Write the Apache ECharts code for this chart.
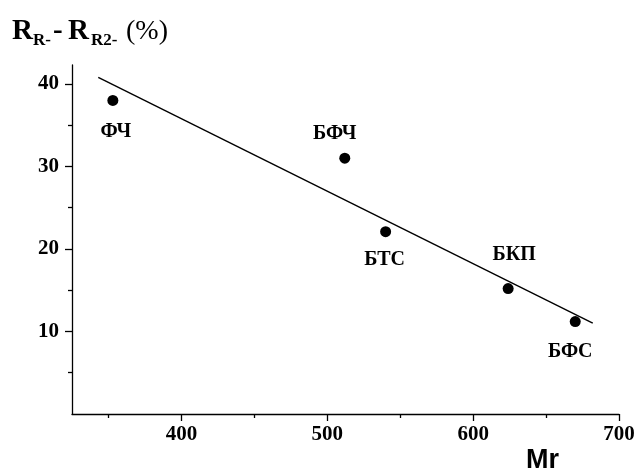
<!DOCTYPE html>
<html>
<head>
    <meta charset="UTF-8">
    <style>
        html, body { margin: 0; padding: 0; background: #fff; }
    </style>
</head>
<body>
<div id="chart" style="width: 639px; height: 473px;"></div>
<script src="https://cdn.jsdelivr.net/npm/echarts@6/dist/echarts.min.js"></script>
<script type="text/javascript">
    // samples
    var names = ['ФЧ', 'БФЧ', 'БТС', 'БКП', 'БФС'];
    var mrValues = [353, 512, 540, 624, 670];
    var diffValues = [38.0, 31.0, 22.1, 15.2, 11.2];

    var fitX = [343, 682];
    var fitY = [40.8, 11.0];

    // ticks
    var xMajorTicks = [400, 500, 600, 700];
    var xMinorTicks = [350, 450, 550, 650];
    var yMajorTicks = [10, 20, 30, 40];
    var yMinorTicks = [5, 15, 25, 35];

    var serif = '"Liberation Serif", "Times New Roman", serif';
    var axisColor = '#000';

    // where each name sits around its dot
    var labelPlace = {
        'ФЧ': [3, 31],
        'БФЧ': [-10, -24],
        'БТС': [-1, 28],
        'БКП': [6, -34],
        'БФС': [-5, 30]
    };

    var points = [];
    for (var i = 0; i < names.length; i++) {
        points.push({
            name: names[i],
            value: [mrValues[i], diffValues[i]],
            label: { offset: labelPlace[names[i]] }
        });
    }
    var fitLine = [];
    for (var j = 0; j < fitX.length; j++) {
        fitLine.push([fitX[j], fitY[j]]);
    }

    var chart = echarts.init(document.getElementById('chart'));
    var option = {
        animation: false,
        backgroundColor: '#fff',
        grid: { left: 72, right: 20, top: 65, bottom: 59 },
        xAxis: [
            {
                type: 'value', min: 325, max: 700,
                axisLine: { lineStyle: { color: axisColor, width: 1.3 } },
                axisTick: { customValues: xMajorTicks, length: 7, lineStyle: { color: axisColor, width: 1.3 } },
                axisLabel: {
                    customValues: xMajorTicks, margin: 10, color: '#000',
                    fontFamily: serif, fontWeight: 'bold', fontSize: 21
                },
                splitLine: { show: false }
            },
            {
                type: 'value', min: 325, max: 700, position: 'bottom',
                axisLine: { show: false },
                axisTick: { customValues: xMinorTicks, length: 4, lineStyle: { color: axisColor, width: 1.3 } },
                axisLabel: { show: false },
                splitLine: { show: false }
            }
        ],
        yAxis: [
            {
                type: 'value', min: 0, max: 42.3,
                axisLine: { show: true, lineStyle: { color: axisColor, width: 1.3 } },
                axisTick: { show: true, customValues: yMajorTicks, length: 7, lineStyle: { color: axisColor, width: 1.3 } },
                axisLabel: {
                    customValues: yMajorTicks, margin: 13, color: '#000',
                    fontFamily: serif, fontWeight: 'bold', fontSize: 21
                },
                splitLine: { show: false }
            },
            {
                type: 'value', min: 0, max: 42.3, position: 'left',
                axisLine: { show: false },
                axisTick: { show: true, customValues: yMinorTicks, length: 4, lineStyle: { color: axisColor, width: 1.3 } },
                axisLabel: { show: false },
                splitLine: { show: false }
            }
        ],
        graphic: [
            { type: 'text', left: 12, top: 17, style: { text: 'R', font: 'bold 29px ' + serif, fill: '#000' } },
            { type: 'text', left: 33, top: 32, style: { text: 'R-', font: 'bold 17px ' + serif, fill: '#000' } },
            { type: 'text', left: 53, top: 17, style: { text: '-', font: 'bold 29px ' + serif, fill: '#000' } },
            { type: 'text', left: 68, top: 17, style: { text: 'R', font: 'bold 29px ' + serif, fill: '#000' } },
            { type: 'text', left: 91, top: 32, style: { text: 'R2-', font: 'bold 17px ' + serif, fill: '#000' } },
            { type: 'text', left: 126, top: 18, style: { text: '(%)', font: '28px ' + serif, fill: '#000' } },
            { type: 'text', left: 526, top: 447, style: { text: 'Mr', font: 'bold 27px "Liberation Sans", Arial, sans-serif', fill: '#000' } }
        ],
        series: [
            {
                type: 'line',
                data: fitLine,
                showSymbol: false,
                lineStyle: { color: '#000', width: 1.4 },
                silent: true
            },
            {
                type: 'scatter',
                data: points,
                symbolSize: 11,
                itemStyle: { color: '#000', opacity: 1 },
                label: {
                    show: true,
                    position: 'inside',
                    formatter: '{b}',
                    color: '#000',
                    opacity: 1,
                    fontFamily: serif,
                    fontWeight: 'bold',
                    fontSize: 20
                }
            }
        ]
    };
    chart.setOption(option);
</script>
</body>
</html>
